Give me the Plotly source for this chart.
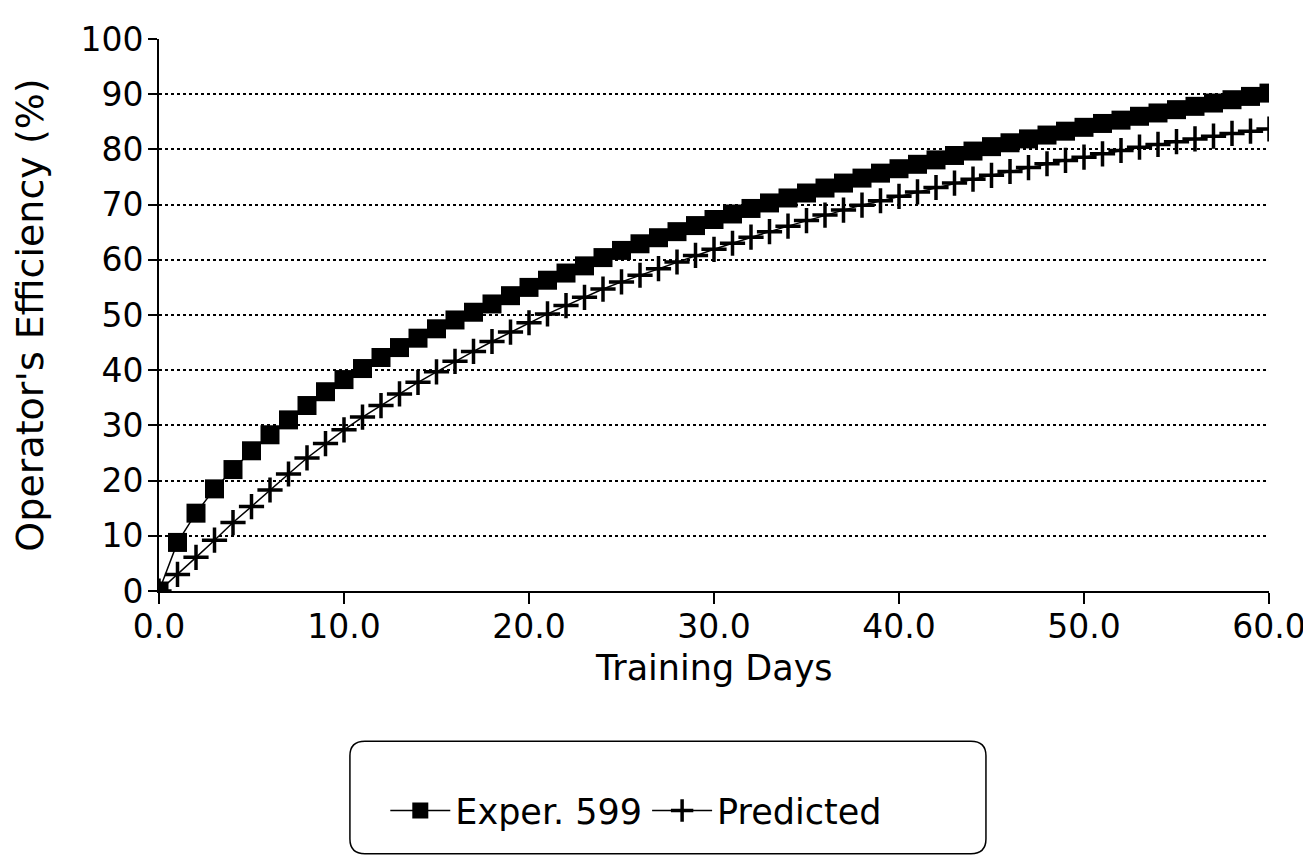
import plotly.graph_objects as go

days = list(range(0, 61))
exper_599 = [0, 8.8, 14.1, 18.5, 22.0, 25.4, 28.3, 31.0, 33.6, 36.1,
             38.3, 40.3, 42.3, 44.1, 45.8, 47.5, 49.1, 50.5, 52.0, 53.5,
             55.0, 56.3, 57.6, 58.9, 60.4, 61.7, 62.9, 64.0, 65.1, 66.2,
             67.3, 68.3, 69.3, 70.3, 71.2, 72.1, 73.0, 73.9, 74.8, 75.7,
             76.5, 77.3, 78.1, 78.9, 79.7, 80.5, 81.2, 81.9, 82.6, 83.3,
             84.0, 84.7, 85.3, 86.0, 86.6, 87.2, 87.8, 88.4, 89.0, 89.6, 90.2]
predicted = [0, 3.0, 6.1, 9.2, 12.4, 15.3, 18.3, 21.2, 24.1, 26.7,
             29.2, 31.5, 33.6, 35.7, 37.8, 39.7, 41.6, 43.4, 45.2, 46.9,
             48.6, 50.2, 51.7, 53.2, 54.7, 56.0, 57.2, 58.4, 59.6, 60.8,
             61.9, 63.0, 64.1, 65.1, 66.1, 67.1, 68.1, 69.0, 69.9, 70.7,
             71.5, 72.3, 73.1, 73.9, 74.6, 75.3, 76.0, 76.7, 77.4, 78.0,
             78.6, 79.2, 79.8, 80.4, 80.9, 81.4, 81.9, 82.4, 82.9, 83.3, 83.7]
x_ticks = [0, 10, 20, 30, 40, 50, 60]
x_tick_labels = ["0.0", "10.0", "20.0", "30.0", "40.0", "50.0", "60.0"]
y_ticks = [0, 10, 20, 30, 40, 50, 60, 70, 80, 90, 100]
x_title = "Training Days"
y_title = "Operator's Efficiency (%)"

FONT = "DejaVu Sans, Liberation Sans, Arial, sans-serif"
FS = 33

fig = go.Figure()
fig.add_trace(go.Scatter(
    x=days, y=exper_599, name="Exper. 599", mode="lines+markers",
    line=dict(color="black", width=1.5),
    marker=dict(symbol="square", size=19, color="black"),
))
fig.add_trace(go.Scatter(
    x=days, y=predicted, name="Predicted", mode="lines+markers",
    line=dict(color="black", width=1.5),
    marker=dict(symbol="cross-thin", size=18, color="black",
                line=dict(width=3.5, color="black")),
))

fig.update_layout(
    width=1311, height=856,
    paper_bgcolor="white", plot_bgcolor="white",
    margin=dict(l=151, r=50, t=20, b=273),
    font=dict(family=FONT, size=FS, color="black"),
    showlegend=True,
    legend=dict(orientation="h", x=0.43, xanchor="center", y=-0.398,
                yanchor="middle", bgcolor="rgba(0,0,0,0)",
                font=dict(size=35), itemwidth=60, tracegroupgap=0),
)
fig.update_xaxes(
    range=[0, 60], tickvals=x_ticks, ticktext=x_tick_labels,
    showline=True, linecolor="black", linewidth=2,
    ticks="outside", ticklen=11, tickcolor="black", tickwidth=1.5,
    ticklabelstandoff=-6, ticklabeloverflow="allow",
    showgrid=False, zeroline=False,
    tickfont=dict(size=FS),
)
fig.update_yaxes(
    range=[0, 100], tickvals=y_ticks,
    showline=True, linecolor="black", linewidth=2,
    ticks="outside", ticklen=9, tickcolor="black", tickwidth=1.5,
    ticklabelstandoff=-2, ticklabeloverflow="allow",
    showgrid=True, gridcolor="black", gridwidth=1.5, griddash="dot",
    zeroline=False,
    title=dict(text=y_title, font=dict(size=38), standoff=28),
    tickfont=dict(size=FS),
)
fig.add_annotation(text=x_title, xref="paper", yref="paper",
                   x=0.5, y=-0.139, xanchor="center", yanchor="middle",
                   showarrow=False, font=dict(size=35))

# rounded legend frame
x0, x1, y0, y1 = 0.172, 0.745, -0.476, -0.272
rx, ry = 0.0135, 0.0265
path = (f"M {x0+rx},{y1} L {x1-rx},{y1} Q {x1},{y1} {x1},{y1-ry} "
        f"L {x1},{y0+ry} Q {x1},{y0} {x1-rx},{y0} L {x0+rx},{y0} "
        f"Q {x0},{y0} {x0},{y0+ry} L {x0},{y1-ry} Q {x0},{y1} {x0+rx},{y1} Z")
fig.add_shape(type="path", xref="paper", yref="paper", path=path,
              line=dict(color="black", width=1.5))

fig.write_html("out.html")
